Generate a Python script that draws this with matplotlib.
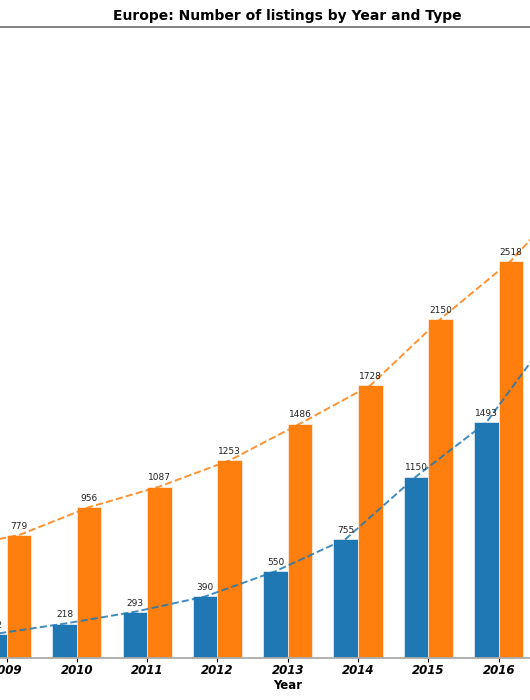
import numpy as np
import matplotlib
matplotlib.use("Agg")
import matplotlib.pyplot as plt

# listings per year (2008 and 2017 sit outside the visible crop)
years = [2008, 2009, 2010, 2011, 2012, 2013, 2014, 2015, 2016, 2017]
type_a = [100, 152, 218, 293, 390, 550, 755, 1150, 1493, 2100]
type_b = [690, 779, 956, 1087, 1253, 1486, 1728, 2150, 2518, 3000]

fig = plt.figure(figsize=(5.3, 7), dpi=100)
# the chart is wider than the picture, so the axes run past both edges
ax = fig.add_axes([-117.9 / 530, 42 / 700, 811.3 / 530, 631 / 700])

x = np.arange(len(years))
w = 0.35
b1 = ax.bar(x - w / 2, type_a, w, color="#1f77b4", edgecolor="white", linewidth=0.4)
b2 = ax.bar(x + w / 2, type_b, w, color="#ff7f0e", edgecolor="white", linewidth=0.4)

ax.plot(x - w / 2, type_a, "--", color="#1f77b4", alpha=0.85, lw=1.4)
ax.plot(x + w / 2, type_b, "--", color="#ff7f0e", alpha=0.85, lw=1.4)

ax.bar_label(b1, padding=3, fontsize=6.5, color="#222222")
ax.bar_label(b2, padding=3, fontsize=6.5, color="#222222")

ax.set_xticks(x)
ax.set_xticklabels(years, fontsize=8.5, fontweight="bold", fontstyle="italic")
ax.tick_params(axis="x", pad=1.5, length=3)
ax.set_xlim(5 - 5.77, 5 + 5.77)
ax.set_ylim(0, 4000)
ax.set_yticks([])
ax.set_xlabel("Year", fontsize=8.5, fontweight="bold", labelpad=1)
ax.set_title("Europe: Number of listings by Year and Type", fontsize=10,
             fontweight="bold", pad=5)

for side in ["left", "right"]:
    ax.spines[side].set_visible(False)
ax.spines["top"].set_color("#777777")
ax.spines["bottom"].set_color("#aaaaaa")
ax.spines["top"].set_linewidth(1.3)
ax.spines["bottom"].set_linewidth(1.3)

fig.savefig("out.png", dpi=100)
